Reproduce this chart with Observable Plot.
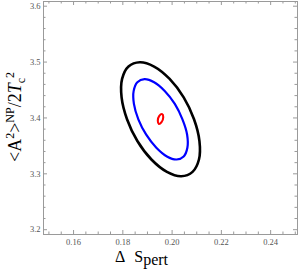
<!DOCTYPE html>
<html><head><meta charset="utf-8">
<script src="https://cdn.jsdelivr.net/npm/d3@7"></script>
<script src="https://cdn.jsdelivr.net/npm/@observablehq/plot@0.6"></script>
<style>html,body{margin:0;padding:0;background:#fff;overflow:hidden;}</style>
</head><body><div id="chart"></div>
<script>
// Contour levels, closed curves
const blackX = [0.2037, 0.2083, 0.2109, 0.2111, 0.2089, 0.2047, 0.1990, 0.1927, 0.1869, 0.1823, 0.1797, 0.1795, 0.1817, 0.1859, 0.1916, 0.1979];
const blackY = [3.2957, 3.3035, 3.3256, 3.3587, 3.3977, 3.4367, 3.4698, 3.4920, 3.4997, 3.4920, 3.4698, 3.4367, 3.3977, 3.3587, 3.3256, 3.3035];
const blueX = [0.2018, 0.2047, 0.2062, 0.2061, 0.2042, 0.2011, 0.1970, 0.1927, 0.1888, 0.1859, 0.1844, 0.1845, 0.1863, 0.1895, 0.1936, 0.1979];
const blueY = [3.3256, 3.3311, 3.3467, 3.3700, 3.3975, 3.4251, 3.4484, 3.4640, 3.4695, 3.4640, 3.4484, 3.4251, 3.3975, 3.3700, 3.3467, 3.3311];
const redX = [0.1960, 0.1964, 0.1957, 0.1946, 0.1942, 0.1948];
const redY = [3.4068, 3.4013, 3.3925, 3.3893, 3.3948, 3.4036];

const xTicks = [0.16, 0.18, 0.20, 0.22, 0.24];
const xTickLabels = ["0.16", "0.18", "0.20", "0.22", "0.24"];
const xMinor = [0.15, 0.155, 0.165, 0.17, 0.175, 0.185, 0.19, 0.195, 0.205, 0.21, 0.215, 0.225, 0.23, 0.235, 0.245, 0.25];
const yTicks = [3.2, 3.3, 3.4, 3.5, 3.6];
const yTickLabels = ["3.2", "3.3", "3.4", "3.5", "3.6"];
const yMinor = [3.22, 3.24, 3.26, 3.28, 3.32, 3.34, 3.36, 3.38, 3.42, 3.44, 3.46, 3.48, 3.52, 3.54, 3.56, 3.58];

const W = 300, H = 273, mL = 43, mR = 3, mT = 1, mB = 39;
const iw = W - mL - mR, ih = H - mT - mB;
const pts = (xs, ys) => xs.map((x, i) => ({x, y: ys[i]}));
const frameColor = "#9a9a9a";
const F = "'Liberation Serif', 'DejaVu Serif', serif";

const plot = Plot.plot({
  width: W, height: H,
  marginLeft: mL, marginRight: mR, marginTop: mT, marginBottom: mB,
  x: {domain: [0.1478, 0.2509], label: null},
  y: {domain: [3.1914, 3.6084], label: null},
  style: {fontFamily: F, background: "#fff"},
  marks: [
    Plot.frame({stroke: frameColor, strokeWidth: 1}),
    Plot.tickX(xTicks, {x: d => d, stroke: frameColor, insetTop: ih - 4}),
    Plot.tickX(xTicks, {x: d => d, stroke: frameColor, insetBottom: ih - 4}),
    Plot.tickX(xMinor, {x: d => d, stroke: frameColor, insetTop: ih - 2.5}),
    Plot.tickX(xMinor, {x: d => d, stroke: frameColor, insetBottom: ih - 2.5}),
    Plot.tickY(yTicks, {y: d => d, stroke: frameColor, insetRight: iw - 4}),
    Plot.tickY(yTicks, {y: d => d, stroke: frameColor, insetLeft: iw - 4}),
    Plot.tickY(yMinor, {y: d => d, stroke: frameColor, insetRight: iw - 2.5}),
    Plot.tickY(yMinor, {y: d => d, stroke: frameColor, insetLeft: iw - 2.5}),
    Plot.axisX(xTicks, {tickSize: 0, tickPadding: 4, fontSize: 8.5, fill: "#555", label: null,
      tickFormat: d => xTickLabels[xTicks.indexOf(d)]}),
    Plot.axisY(yTicks, {tickSize: 0, tickPadding: 3, fontSize: 8.5, fill: "#555", label: null,
      tickFormat: d => yTickLabels[yTicks.indexOf(d)]}),
    Plot.line(pts(blackX, blackY), {x: "x", y: "y", stroke: "#000", strokeWidth: 2.6, curve: "catmull-rom-closed"}),
    Plot.line(pts(blueX, blueY), {x: "x", y: "y", stroke: "#0000ff", strokeWidth: 2.2, curve: "catmull-rom-closed"}),
    Plot.line(pts(redX, redY), {x: "x", y: "y", stroke: "#ff0000", strokeWidth: 2.1, curve: "catmull-rom-closed"})
  ]
});

const svg = d3.select(plot);
// x-axis label: Δ S_pert
const xl = svg.append("text")
  .attr("x", 141.5).attr("y", 261.5)
  .attr("font-family", F).attr("font-size", 16).attr("fill", "#000");
xl.append("tspan").text("Δ");
xl.append("tspan").attr("dx", 9).text("S");
xl.append("tspan").attr("dy", 3.5).text("pert");

// y-axis label: <A²>^NP / 2T_c²
const yl = svg.append("text")
  .attr("transform", "translate(21,117) rotate(-90)")
  .attr("text-anchor", "middle")
  .attr("font-family", F).attr("font-size", 18).attr("fill", "#000");
yl.append("tspan").text("<A");
yl.append("tspan").attr("dy", -7).attr("font-size", 12).text("2");
yl.append("tspan").attr("dy", 7).text(">");
yl.append("tspan").attr("dy", -7).attr("font-size", 12).text("NP");
yl.append("tspan").attr("dy", 7).text("/2");
yl.append("tspan").attr("font-style", "italic").text("T");
yl.append("tspan").attr("dy", 4).attr("font-size", 12).text("c");
yl.append("tspan").attr("dy", -11).attr("font-size", 12).text("2");

document.getElementById("chart").appendChild(plot);
</script>
</body></html>
